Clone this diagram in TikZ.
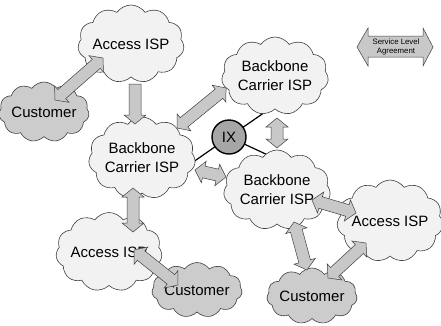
\documentclass[tikz,border=0pt]{standalone}
\usepackage{fontspec}
\setmainfont{Liberation Sans}
\usetikzlibrary{shapes.symbols,calc}
\definecolor{cloudfill}{HTML}{F2F2F2}
\definecolor{custfill}{HTML}{CCCCCC}
\definecolor{arrfill}{HTML}{C8C8C8}
\definecolor{ixfill}{HTML}{A6A6A6}
\definecolor{edgecol}{HTML}{404040}
\pgfdeclarelayer{bg}
\pgfsetlayers{bg,main}
% double-headed fat arrow between two named coordinates
\newcommand\fatdbl[2]{%
  \draw[fatarr] (#1)
    -- ($(#1)!9pt!(#2)!11pt!90:(#2)$)
    -- ($(#1)!9pt!(#2)!6pt!90:(#2)$)
    -- ($(#2)!9pt!(#1)!6pt!-90:(#1)$)
    -- ($(#2)!9pt!(#1)!11pt!-90:(#1)$)
    -- (#2)
    -- ($(#2)!9pt!(#1)!11pt!90:(#1)$)
    -- ($(#2)!9pt!(#1)!6pt!90:(#1)$)
    -- ($(#1)!9pt!(#2)!6pt!-90:(#2)$)
    -- ($(#1)!9pt!(#2)!11pt!-90:(#2)$)
    -- cycle;}
% single-headed fat arrow, head at second point
\newcommand\fatsgl[2]{%
  \draw[fatarr] ($(#1)!6pt!90:(#2)$)
    -- ($(#2)!9pt!(#1)!6pt!-90:(#1)$)
    -- ($(#2)!9pt!(#1)!11pt!-90:(#1)$)
    -- (#2)
    -- ($(#2)!9pt!(#1)!11pt!90:(#1)$)
    -- ($(#2)!9pt!(#1)!6pt!90:(#1)$)
    -- ($(#1)!6pt!-90:(#2)$)
    -- cycle;}
\begin{document}
\begin{tikzpicture}[x=1pt,y=-1pt,
  isp/.style={cloud, cloud puffs=11, cloud puff arc=110, cloud ignores aspect,
    draw=edgecol, line width=0.6pt, fill=cloudfill, align=center,
    font=\fontsize{15}{19}\selectfont, inner sep=0pt},
  cust/.style={isp, fill=custfill},
  fatarr/.style={draw=edgecol, line width=0.5pt, fill=arrfill, line join=miter},
  link/.style={line width=1.2pt, black}]
\useasboundingbox (0,0) rectangle (441,325);

% clouds
\node[isp, minimum width=103pt, minimum height=78pt] (accT) at (131,44) {Access ISP};
\node[cust, minimum width=73pt, minimum height=60pt] (custL) at (44,112) {Customer};
\node[isp, minimum width=105pt, minimum height=82pt] (bbL) at (142,158) {Backbone\\Carrier ISP};
\node[isp, minimum width=105pt, minimum height=78pt] (bbTR) at (275,76) {Backbone\\Carrier ISP};
\node[isp, minimum width=105pt, minimum height=80pt] (bbBR) at (277,190) {Backbone\\Carrier ISP};
\node[isp, minimum width=100pt, minimum height=82pt] (accR) at (390,221) {Access ISP};
\node[cust, minimum width=75pt, minimum height=56pt] (custBR) at (312,296) {Customer};
\node[isp, minimum width=102pt, minimum height=79pt] (accBL) at (109,252) {Access ISP};
\node[cust, minimum width=71pt, minimum height=55pt] (custB) at (197,290) {Customer};

% exchange point
\node[circle, draw=black, line width=1.4pt, fill=ixfill, minimum size=34pt, inner sep=0pt,
  font=\fontsize{15}{19}\selectfont] (ix) at (229,137) {IX};
\coordinate (l1) at (268,110);
\coordinate (l2) at (186,167);
\coordinate (l3) at (270,156);
\begin{pgfonlayer}{bg}
  \draw[link] (ix.center) -- (l1);
  \draw[link] (ix.center) -- (l2);
  \draw[link] (ix.center) -- (l3);
\end{pgfonlayer}

% arrow end points
\coordinate (a1) at (55,100);  \coordinate (a2) at (103,58);
\coordinate (b1) at (135,84);  \coordinate (b2) at (135,124);
\coordinate (c1) at (177,128); \coordinate (c2) at (226,88);
\coordinate (d1) at (277,118); \coordinate (d2) at (277,148);
\coordinate (e1) at (195,170); \coordinate (e2) at (226,177);
\coordinate (f1) at (312,200); \coordinate (f2) at (356,213);
\coordinate (g1) at (294,222); \coordinate (g2) at (307,270);
\coordinate (h1) at (328,278); \coordinate (h2) at (366,243);
\coordinate (i1) at (134,250); \coordinate (i2) at (178,285);
\coordinate (j1) at (133,188); \coordinate (j2) at (133,232);

\fatdbl{a1}{a2}
\fatsgl{b1}{b2}
\fatdbl{c1}{c2}
\fatdbl{d1}{d2}
\fatdbl{e1}{e2}
\fatdbl{f1}{f2}
\fatdbl{g1}{g2}
\fatdbl{h1}{h2}
\fatdbl{i1}{i2}
\fatdbl{j1}{j2}

% legend
\draw[fatarr] (357,47) -- (368,28) -- (368,36) -- (423,36) -- (423,28) -- (433,47)
  -- (423,66) -- (423,57) -- (368,57) -- (368,66) -- cycle;
\node[font=\fontsize{7.8}{9.5}\selectfont, align=center, inner sep=0pt] (sla) at (396,47)
  {Service Level\\Agreement};
\end{tikzpicture}
\end{document}
